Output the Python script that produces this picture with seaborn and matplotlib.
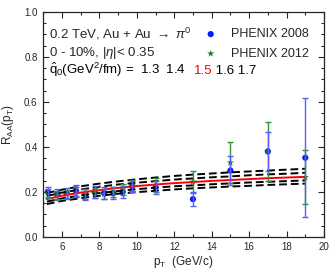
import numpy as np
import pandas as pd
import seaborn as sns
import matplotlib.pyplot as plt
from matplotlib.ticker import MultipleLocator
from matplotlib import transforms

# theory curves, q0 = 1.3 ... 1.7
pt_curve = [5.2, 6, 7, 8, 9, 10, 11, 12, 13, 14, 15, 16, 17, 18, 19]
raa_13 = [0.195, 0.210, 0.225, 0.237, 0.247, 0.256, 0.264, 0.271, 0.277, 0.282, 0.287, 0.291, 0.295, 0.299, 0.303]
raa_14 = [0.182, 0.197, 0.211, 0.223, 0.233, 0.241, 0.248, 0.255, 0.260, 0.265, 0.269, 0.274, 0.278, 0.281, 0.285]
raa_15 = [0.168, 0.183, 0.197, 0.208, 0.218, 0.226, 0.233, 0.239, 0.244, 0.249, 0.253, 0.257, 0.261, 0.264, 0.267]
raa_16 = [0.157, 0.171, 0.184, 0.195, 0.204, 0.212, 0.219, 0.225, 0.229, 0.234, 0.238, 0.242, 0.245, 0.248, 0.251]
raa_17 = [0.146, 0.160, 0.172, 0.183, 0.192, 0.199, 0.205, 0.211, 0.216, 0.220, 0.224, 0.227, 0.231, 0.234, 0.237]

# PHENIX data
pt_data = [5.25, 5.75, 6.25, 6.75, 7.25, 7.75, 8.25, 8.75, 9.25, 9.75, 11, 13, 15, 17, 19]
phenix08 = [0.20, 0.19, 0.195, 0.205, 0.19, 0.20, 0.195, 0.195, 0.20, 0.225, 0.22, 0.168, 0.295, 0.38, 0.352]
err08 = [0.022, 0.022, 0.022, 0.025, 0.025, 0.025, 0.028, 0.025, 0.025, 0.025, 0.03, 0.03, 0.065, 0.085, 0.265]
phenix12 = [0.195, 0.185, 0.19, 0.20, 0.19, 0.195, 0.19, 0.20, 0.21, 0.228, 0.23, 0.245, 0.33, 0.38, 0.265]
err12 = [0.02, 0.02, 0.02, 0.022, 0.022, 0.022, 0.022, 0.022, 0.025, 0.025, 0.03, 0.05, 0.09, 0.13, 0.12]

sns.set_style("ticks")
plt.rcParams['font.family'] = ['Liberation Sans', 'DejaVu Sans']
plt.rcParams['mathtext.fontset'] = 'custom'
plt.rcParams['mathtext.rm'] = 'Liberation Sans'
plt.rcParams['mathtext.it'] = 'Liberation Sans:italic'

fig = plt.figure(figsize=(3.32, 2.72), dpi=100)
ax = fig.add_axes([0.13, 0.129, 0.846, 0.827])

curves = pd.DataFrame({"pt": pt_curve * 5,
                       "raa": raa_13 + raa_14 + raa_15 + raa_16 + raa_17,
                       "q": sum([[q] * len(pt_curve) for q in ["1.3", "1.4", "1.5", "1.6", "1.7"]], [])})
for q in ["1.3", "1.4", "1.6", "1.7"]:
    sns.lineplot(data=curves[curves.q == q], x="pt", y="raa", ax=ax, color="black",
                 lw=1.4, linestyle=(0, (4, 2)), legend=False)
sns.lineplot(data=curves[curves.q == "1.5"], x="pt", y="raa", ax=ax, color="red", lw=1.4, legend=False)

ax.errorbar(pt_data, phenix12, yerr=err12, fmt="none", ecolor="#2f962f", elinewidth=1, capsize=2, capthick=1)
ax.errorbar(pt_data, phenix08, yerr=err08, fmt="none", ecolor="#5a5aff", elinewidth=1, capsize=2, capthick=1)

d08 = pd.DataFrame({"pt": pt_data, "raa": phenix08})
d12 = pd.DataFrame({"pt": pt_data, "raa": phenix12})
sns.scatterplot(data=d08, x="pt", y="raa", ax=ax, color="#0a1aff", marker="o", s=20,
                edgecolor="none", label="PHENIX 2008")
sns.scatterplot(data=d12, x="pt", y="raa", ax=ax, color="#1e7a1e", marker="*", s=30,
                edgecolor="none", label="PHENIX 2012")

ax.set_xlim(5, 20)
ax.set_ylim(0, 1)
ax.xaxis.set_minor_locator(MultipleLocator(1))
ax.yaxis.set_minor_locator(MultipleLocator(0.05))
ax.set_xticks([6, 8, 10, 12, 14, 16, 18, 20])
ax.set_yticks([0, 0.2, 0.4, 0.6, 0.8, 1.0])
ax.set_yticklabels(["0.0", "0.2", "0.4", "0.6", "0.8", "1.0"])
ax.tick_params(which="both", direction="in", top=True, right=True, labelsize=7, width=0.8)
ax.tick_params(which="major", length=4, pad=4)
ax.tick_params(which="minor", length=2)
for s in ax.spines.values():
    s.set_linewidth(0.9)
ax.set_xlabel(r"p$_{\rm T}$  (GeV/c)", fontsize=8.5, labelpad=1)
ax.set_ylabel(r"R$_{\rm AA}$(p$_{\rm T}$)", fontsize=8.5, labelpad=6)

ax.legend(loc="upper right", frameon=False, fontsize=9, handletextpad=0.6,
          borderaxespad=0, borderpad=0, labelspacing=0.6, bbox_to_anchor=(0.945, 0.927))

ax.text(0.021, 0.884, r"0.2 TeV, Au + Au $\rightarrow$ $\pi^0$", transform=ax.transAxes, fontsize=9.5, va="baseline")
ax.text(0.021, 0.804, r"0 - 10%, |$\eta$|< 0.35", transform=ax.transAxes, fontsize=9.5, va="baseline")

# q0 line with the red 1.5
fig.canvas.draw()
renderer = fig.canvas.get_renderer()
pieces = [(r"$\hat{\rm q}_0$(GeV$^2$/fm) =  1.3  1.4   ", "black"), ("1.5", "red"), (" 1.6 1.7", "black")]
t = ax.text(0.021, 0.724, pieces[0][0], transform=ax.transAxes, fontsize=9.5, va="baseline", color=pieces[0][1])
for txt, col in pieces[1:]:
    ex = t.get_window_extent(renderer)
    tr = transforms.offset_copy(t.get_transform(), fig=fig, x=ex.width * 72 / fig.dpi, units="points")
    t = ax.text(0.021, 0.724, txt, transform=tr, fontsize=9.5, va="baseline", color=col)
    t.draw(renderer)

fig.savefig("out.png", dpi=100)
